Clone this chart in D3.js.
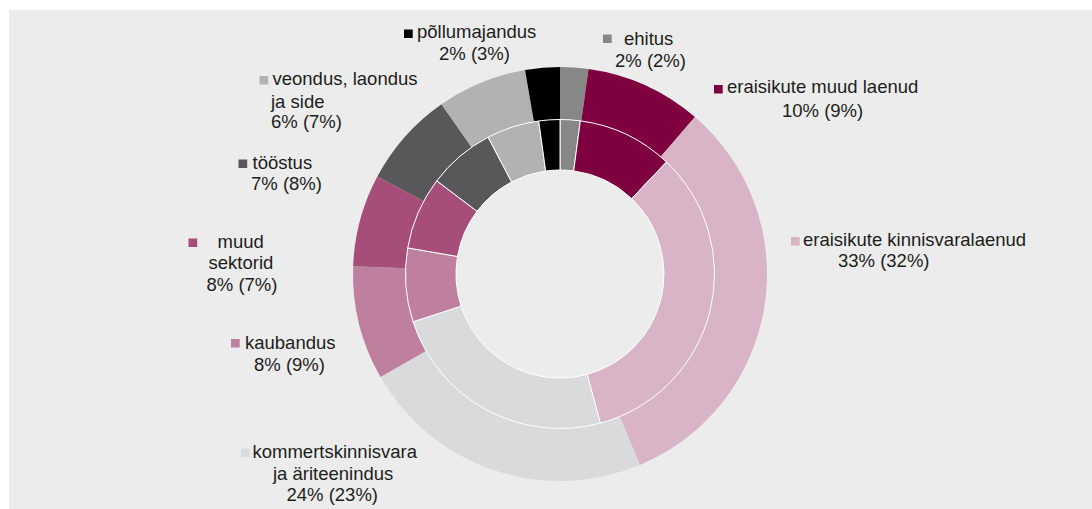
<!DOCTYPE html>
<html>
<head>
<meta charset="utf-8">
<script src="https://cdn.jsdelivr.net/npm/d3@7"></script>
<style>
    body { margin: 0; background: #ffffff; }
    text { font-family: "Liberation Sans", Arial, sans-serif; font-size: 18.5px; fill: #1d1d1b; }
</style>
</head>
<body>
<div id="chart"></div>
<script>
// sectors, clockwise from 12 o'clock
const categories = [
    "ehitus",
    "eraisikute muud laenud",
    "eraisikute kinnisvaralaenud",
    "kommertskinnisvara ja äriteenindus",
    "kaubandus",
    "muud sektorid",
    "tööstus",
    "veondus, laondus ja side",
    "põllumajandus"
];
// label text split into rows
const nameRows = [
    ["ehitus"],
    ["eraisikute muud laenud"],
    ["eraisikute kinnisvaralaenud"],
    ["kommertskinnisvara", "ja äriteenindus"],
    ["kaubandus"],
    ["muud", "sektorid"],
    ["tööstus"],
    ["veondus, laondus", "ja side"],
    ["põllumajandus"]
];
// inner ring (current) and outer ring (previous), shares in %
const currentShares = [2.1, 10.0, 33.7, 24.2, 7.7, 7.6, 7.0, 5.5, 2.2];
const previousShares = [2.2, 9.1, 32.4, 23.0, 8.9, 7.2, 7.5, 7.0, 2.7];
const currentLabels = ["2%", "10%", "33%", "24%", "8%", "8%", "7%", "6%", "2%"];
const previousLabels = ["2%", "9%", "32%", "23%", "9%", "7%", "8%", "7%", "3%"];

const colors = ["#878787", "#7f003f", "#d9b3c6", "#d9dadc", "#bf809f",
                "#a64d79", "#58585a", "#b2b2b3", "#000000"];

// label placement: legend square + start of each text row (x, baseline)
const labelLayout = [
    { sq: [603, 34.5], rows: [[624, 45], [615, 67]] },
    { sq: [714, 85], rows: [[727, 93], [782, 116.5]] },
    { sq: [791, 237], rows: [[803, 246], [838, 266.5]] },
    { sq: [241, 448.5], rows: [[252.5, 457.5], [273, 480], [286.5, 501]] },
    { sq: [231, 339], rows: [[245, 349], [254, 370.5]] },
    { sq: [188.5, 238.5], rows: [[217.5, 248.3], [208.5, 269.3], [206.5, 290.7]] },
    { sq: [238.5, 159.5], rows: [[252.5, 169], [251, 190]] },
    { sq: [259.5, 76], rows: [[272.5, 85], [271, 108.3], [271, 128.3]] },
    { sq: [404, 29.5], rows: [[417, 37.5], [439, 60]] }
];

const width = 1092, height = 509;
const cx = 560, cy = 274;

const svg = d3.select("#chart")
    .append("svg")
    .attr("width", width)
    .attr("height", height);

svg.append("rect")
    .attr("x", 9)
    .attr("y", 10)
    .attr("width", width - 9)
    .attr("height", height - 10)
    .attr("fill", "#ececec");

const pie = d3.pie().sort(null).value(d => d);

const outerArc = d3.arc().innerRadius(154.5).outerRadius(207);
const innerArc = d3.arc().innerRadius(104).outerRadius(154.5);

const rings = svg.append("g").attr("transform", `translate(${cx},${cy})`);

rings.append("g").attr("id", "outer_ring")
    .selectAll("path")
    .data(pie(previousShares))
    .enter()
    .append("path")
    .attr("d", outerArc)
    .attr("fill", (d, i) => colors[i]);

rings.append("g").attr("id", "inner_ring")
    .selectAll("path")
    .data(pie(currentShares))
    .enter()
    .append("path")
    .attr("d", innerArc)
    .attr("fill", (d, i) => colors[i])
    .attr("stroke", "#ffffff")
    .attr("stroke-width", 1);

// labels
const labels = svg.append("g").attr("id", "labels");

categories.forEach((c, i) => {
    const lay = labelLayout[i];
    const g = labels.append("g");
    g.append("rect")
        .attr("x", lay.sq[0])
        .attr("y", lay.sq[1])
        .attr("width", 8.7)
        .attr("height", 8.5)
        .attr("fill", colors[i]);

    const rows = nameRows[i].concat([currentLabels[i] + " (" + previousLabels[i] + ")"]);
    rows.forEach((r, j) => {
        g.append("text")
            .attr("x", lay.rows[j][0])
            .attr("y", lay.rows[j][1])
            .text(r);
    });
});
</script>
</body>
</html>
